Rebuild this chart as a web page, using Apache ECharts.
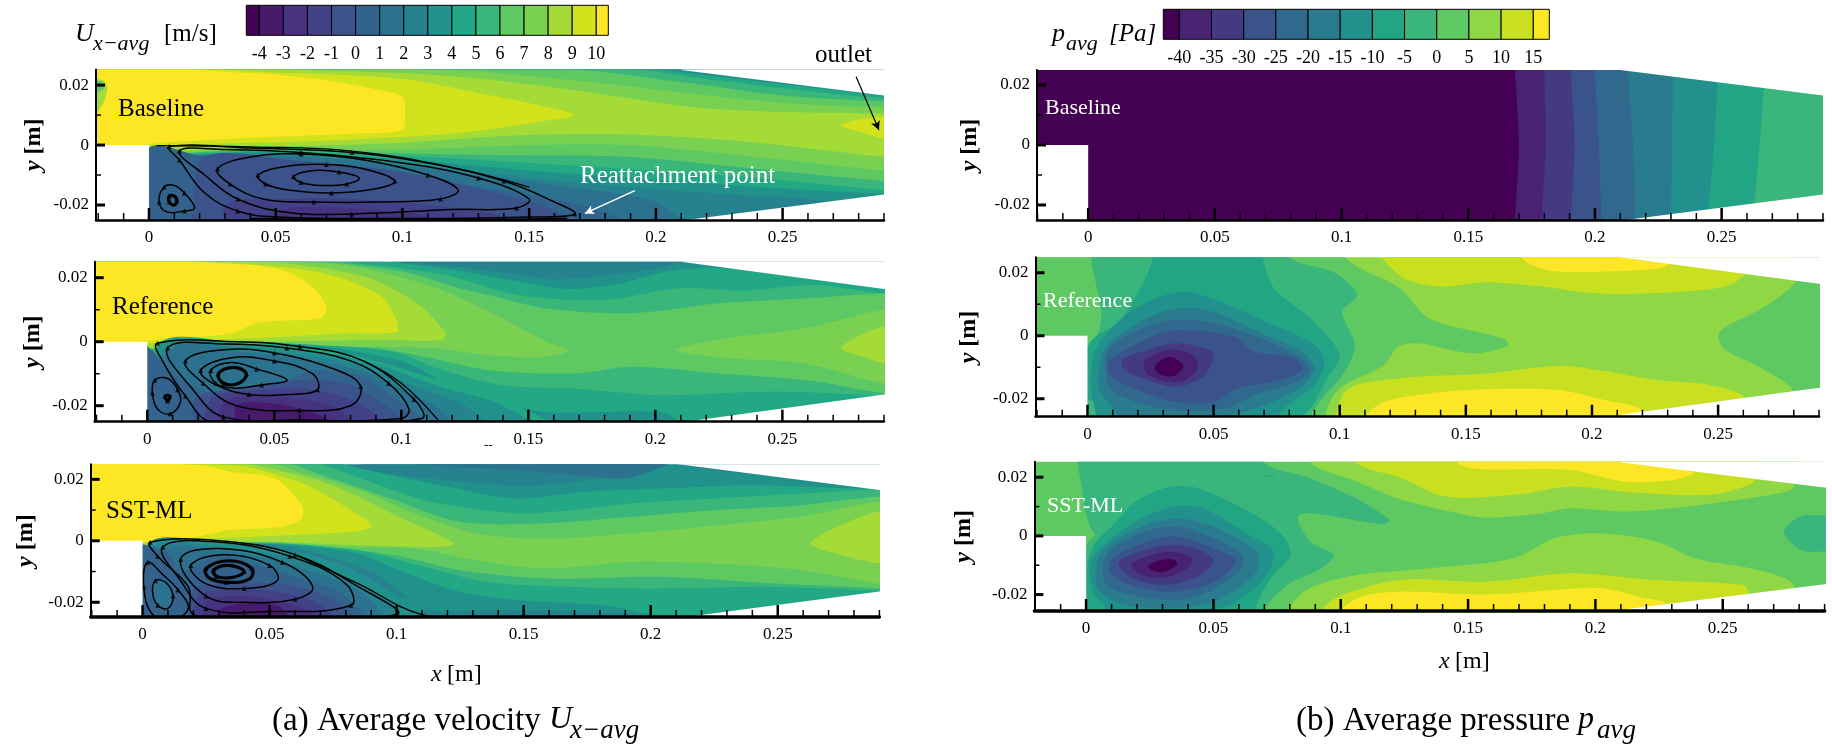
<!DOCTYPE html>
<html><head><meta charset="utf-8">
<style>html,body{margin:0;padding:0;background:#fff}#c{width:1832px;height:754px}</style>
<script src="https://cdn.jsdelivr.net/npm/echarts@6/dist/echarts.min.js"></script>
</head><body><div id="c"></div>
<script>
// colour levels
const uColors=['#440154','#481a6c','#46327e','#424086','#3b528b','#33638d','#2c728e','#26828e','#21918c','#22a884','#3bb67a','#5ec962','#7ad151','#a5db36','#d2e21b','#fde725'];
const pColors=['#440154','#482374','#443983','#3a538b','#31688e','#2a7b8e','#22908c','#21a585','#3ab57b','#5ec962','#8fd744','#c8e020','#fde725'];
const uBounds=[-4.54,-4,-3,-2,-1,0,1,2,3,4,5,6,7,8,9,10,10.5];
const pBounds=[-42.49,-40,-35,-30,-25,-20,-15,-10,-5,0,5,10,15,17.49];
const uTickLabels=[-4,-3,-2,-1,0,1,2,3,4,5,6,7,8,9,10];
const pTickLabels=[-40,-35,-30,-25,-20,-15,-10,-5,0,5,10,15];
const xMajor=[0,0.05,0.1,0.15,0.2,0.25];
const xMinor=[-0.02,-0.01,0.01,0.02,0.03,0.04,0.06,0.07,0.08,0.09,0.11,0.12,0.13,0.14,0.16,0.17,0.18,0.19,0.21,0.22,0.23,0.24,0.26,0.27,0.28,0.29];
const yMajor=[-0.02,0,0.02];
const yMinor=[-0.01,0.01];
// duct outline: areas outside the duct (mm)
const stepMask=[[-60,0],[0,0],[0,-60],[-60,-60]];
const topMask=[[210,25],[290,16.5],[340,16.5],[340,60],[210,60]];
const botMask=[[212,-25],[290,-16.5],[340,-16.5],[340,-60],[212,-60]];
const full=[[-60,-60],[340,-60],[340,60],[-60,60]];

// contour regions, painted in order: [colour level, [[x mm, y mm],...]]
const uBaselineBands=[
[6,full],
[7,[[-40,26.5],[205,26.5],[225,24.5],[290,18],[330,14],[330,-32],[225,-32],[200,-19],[170,-14.5],[130,-10],[80,-5],[30,-3],[-40,-2]]],
[8,[[-40,26],[200,26],[225,24],[290,17.5],[330,14],[330,-25],[260,-18],[230,-16.5],[190,-14],[150,-11],[110,-7],[50,-3],[-40,-1.5]]],
[9,[[-40,25.6],[195,25.5],[222,23],[290,16.5],[330,14],[330,-18],[290,-16.3],[240,-14],[190,-11],[150,-8.5],[110,-5.5],[50,-2.5],[-40,-1]]],
[10,[[-40,25.5],[190,25.3],[220,22],[260,18],[290,15.5],[330,14],[330,-17],[290,-15],[240,-11],[190,-8],[150,-6],[110,-4],[50,-2],[-40,-0.8]]],
[11,[[-40,25.3],[165,25.2],[210,21],[250,16.5],[290,14.5],[330,13.5],[330,-14],[290,-12],[240,-8],[190,-4],[150,-3.5],[110,-3],[50,-1.6],[-40,-0.6]]],
[12,[[-40,25.2],[115,25.1],[168,21.5],[210,17.5],[250,14],[290,12.5],[330,12],[330,-11],[290,-8.5],[240,-4],[190,0],[150,0],[100,-1.5],[50,-1.2],[-40,-0.4]]],
[13,[[-40,25],[77,24.6],[122,22.8],[168,18.3],[213,12.8],[250,11],[290,10.5],[330,10],[330,-6],[290,-3.9],[236,1.1],[190,3.5],[150,3.4],[100,0.8],[50,-0.3],[-40,-0.2]]],
[14,[[-40,25],[54,24],[100,22],[134,16.7],[156.5,12.8],[168,10],[156,8],[122,4],[77,1.7],[32,0.6],[-40,0]]],
[15,[[-40,24.6],[40,24],[70,21.5],[90,18.5],[100,16],[101,10],[100,5],[80,3.8],[40,2.5],[10,1],[-40,0]]],
[13,[[-25,22],[-18,21.5],[-16.5,19],[-18,14],[-25,6]]],
[11,[[-25,21.5],[-18.5,21],[-18,18.5],[-25,17]]],
[14,[[273,6.7],[280,8.5],[290,9.4],[300,9.4],[300,2],[290,2.2],[280,4.5]]],
[5,[[0,-1],[20,-3.5],[50,-4.5],[90,-8],[130,-14],[160,-18],[185,-24],[195,-32],[-10,-32]]],
[4,[[22,-3.8],[60,-5.5],[100,-9],[130,-14.5],[160,-22],[172,-32],[18,-32],[17,-22]]],
[3,[[30,-20],[50,-18],[80,-18],[110,-20],[140,-24],[148,-32],[35,-32]]],
[2,[[52,-22],[75,-21],[95,-22],[110,-24],[118,-32],[48,-32]]]
];
const uReferenceBands=[
[8,full],
[9,[[-40,26.5],[60,26.5],[88,25.5],[120,22.5],[145,19],[165,16.5],[185,18],[205,22],[225,23],[262,20],[330,16],[330,-25],[290,-17.5],[214,-26],[202,-22],[157,-22],[139,-18.7],[119,-13.5],[100,-6],[60,-1],[-40,-0.5]]],
[10,[[-40,26],[55,26],[114,21.4],[146,14.6],[180,13],[209,16.7],[236,16],[263,17.7],[290,15],[330,13],[330,-19],[290,-17],[247,-15.6],[202,-16.7],[168,-14.6],[139,-13.5],[114,-8.3],[96,-3],[50,-0.5],[-40,-0.4]]],
[11,[[-40,25.6],[60,25.4],[100.5,21.9],[123,16.7],[134.5,14.6],[157,10.4],[191,8.9],[225,12],[259,13.5],[290,15.1],[330,14],[330,-18],[290,-16],[259,-12],[225,-9.9],[191,-7.8],[168,-9.9],[134.5,-8.9],[112,-5.2],[89,-2],[50,-0.3],[-40,-0.3]]],
[12,[[-40,25.4],[50,25],[82,23.4],[114,16.7],[134.5,9.4],[157,0],[166,-2.6],[157,-4.7],[134.5,-4.2],[112,-2],[78,-1.5],[44,0],[-40,-0.2]]],
[12,[[208,-2.6],[229.6,1.2],[259,4.2],[290,10],[330,13],[330,-17],[290,-13],[259,-6.8],[230,-5.2]]],
[13,[[273,-2],[282,2.6],[290,4.7],[330,6],[330,-10],[290,-6.8],[282,-4.7]]],
[13,[[-40,25.2],[45,24.8],[60,24],[87,20],[107,11.5],[117.5,2.6],[116,0.5],[96,0.5],[41,0],[-40,-0.1]]],
[14,[[-40,25.1],[32,24.5],[69,21.4],[91.5,14.6],[98,6.8],[98,3],[78,2.6],[51,1.5],[19,0.5],[-40,0]]],
[15,[[-40,25],[30,24.5],[53,22.4],[65.5,16.7],[70.6,10.4],[67.7,7.3],[44,6],[32.6,2.6],[10,1],[-40,0]]],
[7,[[85,26],[120,23.5],[145,21],[160,19.5],[178,20.5],[205,23.5],[212,26]]],
[9,[[5,-0.4],[40,-0.8],[70,-2.5],[90,-6],[115,-12],[140,-18],[170,-32],[0,-32]]],
[8,[[5,-1],[40,-1.5],[70,-3.5],[90,-7],[115,-14],[140,-20],[160,-32],[0,-32]]],
[7,[[8,-1.5],[40,-2.5],[70,-5],[90,-9],[105,-14],[125,-20],[140,-32],[0,-32]]],
[6,[[10,-2],[40,-3.5],[70,-6.5],[90,-10.5],[100,-15],[115,-21],[125,-32],[0,-32]]],
[5,[[-2,-1],[8,-8],[14,-12],[25,-16],[35,-14.5],[55,-12],[65,-9],[85,-11],[95,-16],[108,-24],[114,-32],[-2,-32]]],
[4,[[20,-17],[40,-14],[60,-12],[78,-13],[90,-18],[100,-24],[106,-32],[25,-32],[18,-22]]],
[3,[[25,-18],[45,-15],[65,-15],[80,-18],[90,-23],[96,-32],[25,-32]]],
[2,[[30,-19],[45,-17],[60,-18],[75,-21],[85,-32],[30,-32]]],
[1,[[35,-20],[45,-19],[55,-20],[70,-24],[76,-32],[38,-32]]]
];
const uSstBands=[
[7,full],
[8,[[-40,27],[62,27],[70,25],[102,21.4],[147,18],[181,20.3],[208,24.7],[225,23],[290,18],[330,16],[330,-30],[214,-30],[204,-25],[170,-23],[136,-22.6],[111,-22],[90,-10],[50,-1],[-40,-1]]],
[9,[[-40,26.5],[70,26],[88.6,23],[120,17.6],[147,13.8],[174.5,16],[204,17],[238,18],[283,17],[330,16],[330,-22],[290,-17.5],[214,-25],[181,-21],[147,-19.3],[125,-16.6],[102,-10],[84,-4],[50,-1],[-40,-1]]],
[10,[[-40,26],[65,26],[80,22],[113.5,12.7],[147,9],[170,10],[192.6,12.2],[226,13.8],[260,15.4],[290,16.5],[330,16],[330,-19],[290,-16.3],[249,-15],[204,-15.5],[170,-15],[136,-13.4],[109,-8],[84,-3],[50,-0.8],[-40,-0.8]]],
[11,[[-40,25.8],[55,25.5],[70.5,21.4],[97.6,13.8],[125,6.2],[156,5.6],[192.6,7.8],[226,10],[260,11.6],[290,14.3],[330,14],[330,-18],[290,-15.5],[249,-13.9],[204,-11.7],[159,-12.3],[125,-9.6],[102,-5.2],[80,-2.5],[50,-0.6],[-40,-0.6]]],
[12,[[-40,25.6],[50,25],[61.5,22.4],[84,17],[107,9],[131.5,2.4],[159,0.8],[192.6,2.4],[226,5],[260,8],[290,12.7],[330,13],[330,-17],[290,-14],[260,-9.6],[226,-7.4],[192.6,-6.8],[159,-9],[131.5,-6.3],[107,-2.5],[81,-2],[50,-0.4],[-40,-0.4]]],
[13,[[-40,25.4],[40,25],[50,23.5],[75,18],[102,7.3],[122.5,-0.9],[113,-2],[84,-1.4],[46,-0.3],[-40,-0.2]]],
[13,[[263,-0.9],[272,4],[290,9.5],[330,11],[330,-10],[290,-7.4],[272,-4]]],
[14,[[-40,25.2],[35,24.6],[43,23.8],[65,18],[87,7.3],[90,4.6],[83,3],[57,1.8],[18,0.5],[-40,0]]],
[15,[[-40,25.1],[23,24.6],[34,22.5],[52,20.3],[62.6,11.6],[62.6,7.3],[55,4.6],[34,3.5],[18.5,1],[-40,0]]],
[7,[[60,27],[84,25],[125,22],[159,20.3],[181,21],[206,24.7],[212,27]]],
[6,[[100,27],[107,25],[147,23],[170,21.5],[190,20.3],[204,24],[210,27]]],
[8,[[3,-0.6],[30,-0.8],[60,-3.5],[80,-8.5],[100,-17.5],[111,-22],[100,-32],[0,-32]]],
[7,[[5,-2],[30,-2],[55,-5],[78,-11],[95,-19],[105,-32],[0,-32]]],
[6,[[8,-3],[30,-3],[50,-6],[70,-11],[88,-18],[98,-32],[0,-32]]],
[5,[[15,-10],[30,-5],[50,-9],[65,-13],[80,-18],[92,-32],[0,-32],[-2,-2],[10,-4]]],
[4,[[20,-16],[35,-14],[55,-14],[72,-18],[85,-26],[88,-32],[22,-32]]],
[3,[[22,-18],[35,-16],[55,-17],[70,-21],[80,-32],[22,-32]]],
[2,[[25,-20],[40,-18],[55,-20],[68,-24],[72,-32],[26,-32]]],
[1,[[30,-23],[42,-20],[55,-22],[60,-32],[32,-32]]],
[6,[[5,-13],[9,-13],[12,-18],[10,-22],[6,-21],[4,-17]]]
];
const pBaselineBands=[
[0,full],
[1,[[168.5,40],[168.5,25],[170,0],[168.5,-25],[168.5,-40],[340,-40],[340,40]]],
[2,[[180,40],[180,25],[180.5,0],[179,-25],[179,-40],[340,-40],[340,40]]],
[3,[[190.5,40],[190.5,25],[192,0],[190.5,-25],[190.5,-40],[340,-40],[340,40]]],
[4,[[200,40],[200,25],[201.5,0],[202.5,-25],[202.5,-40],[340,-40],[340,40]]],
[5,[[213,40],[213,25],[215,0],[215.6,-25],[215.6,-40],[340,-40],[340,40]]],
[6,[[230.6,40],[230.6,25],[230.5,0],[230,-25],[230,-40],[340,-40],[340,40]]],
[7,[[248.4,40],[248.4,25],[247,0],[244.5,-25],[244.5,-40],[340,-40],[340,40]]],
[8,[[267,40],[267,25],[265,0],[262.5,-25],[262.5,-40],[340,-40],[340,40]]]
];
const pReferenceBands=[
[10,full],
[11,[[113,32],[124,19],[140,15.6],[158,17],[180,15.6],[202.6,13.4],[236,14],[254,16],[262,21],[262,32]]],
[12,[[172,32],[172,25],[182.4,20.8],[202.6,20.3],[227,21.4],[230.5,23],[214,25],[214,32]]],
[11,[[101,-34],[102,-17.8],[124,-13.5],[158,-12],[187,-9.5],[202.6,-10.9],[225,-14],[247,-15.7],[261,-20],[261,-34]]],
[12,[[110,-34],[110,-26],[117.6,-21],[135.5,-18.3],[158,-17],[187,-17.2],[202.6,-20],[220,-24],[212,-34]]],
[9,[[281,30],[281,17.7],[267.4,8.7],[250.7,1.3],[252,-4],[267.4,-10.4],[280,-17.8],[280,-30],[340,-30],[340,30]]],
[9,[[-40,36],[102,36],[102,25],[124,15],[135.5,5.5],[164.6,-0.8],[167,-3],[153,-5.6],[131,-2.4],[123,-3.5],[117.6,-9.3],[100,-16.7],[94,-25.7],[94,-36],[-40,-36]]],
[8,[[1.3,36],[1.3,25],[5.4,7.6],[4,0.2],[0.4,-3],[-1,-36],[88.5,-36],[88.5,-25.7],[93,-20],[102,-11.4],[106,-3],[101,7.6],[107,13],[98,20],[80,25],[80,36]]],
[7,[[26,36],[26,25],[21.5,16],[12.5,4.4],[2.5,-0.8],[-2,-8],[-2,-36],[85,-36],[85,-26],[88.5,-23],[95,-13.5],[100,-6],[88.5,5.5],[74,15],[69.5,25],[69.5,36]]],
[8,[[-5,-21],[3,-21],[5,-26],[3,-36],[-5,-36]]],
[6,[[19,8.7],[37,14],[52.6,10.8],[70.6,4.4],[88.5,-2],[94,-8],[90,-15.7],[79.6,-22],[75,-26],[73,-36],[5,-36],[3.6,-26],[1.3,-15.7],[2.5,-6],[7,0.2]]],
[5,[[8,-3],[20,4],[35,8.7],[50,7.6],[70.6,0.2],[85,-5],[90,-10.4],[84,-16.7],[70.6,-22],[57,-26],[50,-36],[14,-36],[12.5,-26],[4.7,-16.7],[5.4,-8]]],
[4,[[8,-5],[21.5,2.3],[35,5],[50.7,3.9],[70.6,-1.4],[85,-7.2],[88.5,-11.4],[79.6,-15.7],[66,-18.8],[55,-23],[35,-23.6],[19,-21],[9,-16.7]]],
[3,[[8.5,-8],[23.5,-1],[35,1.8],[58,-0.3],[66,-5],[82,-7],[85,-11],[73,-14.6],[59.5,-16.7],[50.5,-21],[35,-21],[19,-17],[9,-12.5]]],
[2,[[13.6,-7.7],[24,-4.5],[35,-2.4],[49.4,-5],[49.4,-8.2],[46,-13],[35,-16.2],[23.7,-14],[15,-11]]],
[1,[[22.6,-8.2],[31.5,-4.5],[41.6,-6],[43.8,-9.8],[39.4,-14],[31.5,-14.6],[23.5,-12]]],
[0,[[27,-9.3],[32.5,-6.7],[38,-9.3],[36,-12],[32.5,-13],[27.5,-11.6]]]
];
const pSstBands=[
[9,full],
[10,[[88,34],[88,25],[106.5,18.5],[124,12.3],[146,7.7],[157,6.2],[179,7.7],[190,9.4],[212,8.3],[245,11],[274.5,15],[278,17],[278,34]]],
[11,[[106,34],[106,25],[124,19.7],[141,13.4],[168,14],[190,16.8],[212,15],[245,14],[260.6,17.4],[263,20],[263,34]]],
[12,[[146,34],[146,25],[155,22.8],[190,22.5],[212,18.5],[230,19],[238.6,21.4],[227,23.6],[214,25],[214,34]]],
[10,[[79,-34],[79,-25.5],[88,-17.8],[106.5,-13.3],[135,-11],[168,-7.6],[184,-0.8],[201.6,0.9],[224,-1.9],[239,-7.6],[261,-11],[274.5,-14.4],[278.3,-17.8],[278,-34]]],
[11,[[92.5,-34],[92.5,-25.5],[101,-20],[123.5,-15],[156.9,-15.6],[190,-12.7],[223,-15],[258,-16.7],[260,-19.5],[258,-34]]],
[12,[[100,-34],[100,-25.5],[108,-20.7],[123.5,-19],[157,-20],[201,-17.8],[216.8,-20.7],[228,-23.5],[214,-34]]],
[8,[[274,1.5],[280.5,6.6],[290,7],[340,7],[340,-5.3],[290,-5.3],[280.5,-4.8]]],
[8,[[-1,36],[-1,11.7],[1.8,2.6],[3.5,0.3],[0.4,-3],[-1,-36],[70,-36],[70,-25.5],[79,-16.7],[92.5,-11],[97.3,-6.5],[88,-2],[83,6.6],[88,7.7],[117,4],[119,5.5],[106,12.8],[88,19.7],[70,25],[70,36]]],
[7,[[10.6,3.7],[19.5,11.7],[32.7,16.8],[44,16.2],[64,8.3],[77,0.3],[80.3,-6.5],[72.6,-14.4],[66,-25.5],[64,-36],[1,-36],[0.7,-25.5],[0.7,-8.7],[4,-2]]],
[6,[[8.4,-2],[21.7,6],[35,10],[46,9.4],[61.5,1.5],[73.6,-5.3],[70,-14.4],[57,-23.5],[50.4,-25.5],[48,-36],[10,-36],[8.4,-25.5],[2.9,-19],[1.8,-8.7]]],
[5,[[7.3,-4.2],[21.7,3.2],[35,6],[48,3.8],[61.5,-1.9],[68,-6.5],[66,-13.3],[50.4,-22.4],[35,-24.6],[15,-23.5],[4.4,-17.8],[4.4,-8.7]]],
[4,[[8.4,-6],[21.7,1],[35,3.2],[50.4,-0.8],[61.5,-6.5],[60.4,-11.6],[48,-19],[35,-21.8],[17,-20],[7.3,-15.6]]],
[3,[[10.6,-7.6],[23.8,-2],[35,-0.2],[50.4,-4.2],[58.7,-8.7],[50.4,-15.6],[35,-19],[19.5,-17.3],[9.5,-12.7]]],
[2,[[12.8,-8.7],[26,-4.2],[35,-3],[46,-5.3],[50,-8.7],[43.8,-13.9],[30.5,-16.7],[17,-13.9]]],
[1,[[17.7,-9.9],[28,-5.9],[38,-5.9],[42,-8.7],[35,-13.3],[24,-13.9]]],
[0,[[24.3,-10.5],[29.4,-8.2],[35,-8.2],[35.6,-10],[29.4,-12.4]]],
[6,[[70,20.7],[72,20.2],[74.5,19.8],[72,20.5]]]
];

// streamlines (mm): closed loops, then open lines
const uBaselineLoops=[
[[8,-17],[10,-17],[11,-18.5],[10,-20],[8,-19]],
[[57,-10.5],[65,-8.5],[75,-9],[83,-11],[78,-13],[68,-13.5],[60,-12.5]],
[[43,-10],[55,-7],[70,-6.5],[85,-8],[97,-12],[90,-14.5],[72,-16],[55,-15],[46,-13]],
[[27,-8],[40,-4],[60,-3],[85,-5],[110,-10],[122,-15],[115,-18],[90,-19],[65,-19],[45,-18],[32,-13]],
[[12,-2],[30,-1.5],[60,-2.5],[100,-6],[130,-11],[150,-18],[145,-21],[120,-21.5],[80,-23],[55,-22.5],[35,-18],[22,-10]],
[[8,-0.5],[40,-1],[80,-2.5],[110,-6],[140,-12],[160,-19],[168,-23],[150,-24],[100,-24.5],[50,-24],[35,-22],[22,-16],[12,-5]],
[[6,-14],[10,-13.5],[14,-16],[18,-21],[14,-22],[7,-22.3],[4,-19]]
];
const uBaselineOpen=[[[3,-0.2],[40,-0.6],[80,-2],[120,-7.5],[150,-14]],[[40,-24.5],[100,-25],[165,-24.5]]];
const uReferenceLoops=[
[[28,-10],[34,-8],[39,-10],[36,-13],[30,-13]],
[[7,-17],[9,-17],[8,-18.5]],
[[25,-9],[33,-6.5],[43,-8.5],[55,-12],[45,-13.5],[34,-14.5],[27,-13]],
[[21,-9],[33,-5],[50,-6],[65,-10],[67,-15],[55,-16.5],[40,-16.5],[27,-13.5]],
[[15,-6],[30,-2.5],[50,-3.5],[75,-9],[84,-14],[80,-20],[60,-21.5],[35,-20],[22,-13]],
[[8,-2],[30,-0.7],[55,-2],[80,-6],[95,-13],[103,-21],[100,-24],[60,-24.5],[30,-23.5],[18,-15]],
[[4,-0.5],[35,0],[60,-1.5],[85,-6],[105,-18],[108,-24],[60,-25.5],[25,-25],[15,-17],[6,-6]],
[[3,-12],[8,-11.5],[12,-15],[13,-19],[9,-22.5],[4,-21],[2,-16]]
];
const uReferenceOpen=[[[85,-6],[100,-13],[115,-25]]];
const uSstLoops=[
[[28,-9.5],[34,-8],[40,-10],[35,-12],[29,-11.5]],
[[25,-9],[34,-6.5],[43,-9],[42,-12.5],[33,-13.5],[26,-12]],
[[19,-8],[32,-4.5],[50,-8],[53,-13],[40,-15.5],[25,-14]],
[[15,-6],[30,-2.5],[55,-7],[67,-15],[60,-19],[40,-20],[25,-18]],
[[8,-2],[30,-0.5],[58,-5],[80,-14],[82,-21],[50,-23],[25,-22],[15,-13]],
[[3,-0.5],[30,0],[60,-4.5],[85,-15],[100,-24],[40,-25],[20,-24],[18,-15],[6,-5]],
[[2,-7],[8,-11],[14,-16],[18,-22],[12,-25.5],[4,-24],[0.5,-15]],
[[5,-13],[9,-13.5],[12,-18],[10,-22],[6,-21],[4,-17]]
];
const uSstOpen=[[[60,-4.5],[85,-14],[110,-24],[135,-25]]];

// panels: pixel frame of each plot
const panels=[
 {name:'Baseline',bands:uBaselineBands,colors:uColors,loops:uBaselineLoops,open:uBaselineOpen,left:96,right:884,top:69.5,bottom:220,xmin:-0.0209,ymin:-0.025,ymax:0.0252,nameX:34,ink:'#000',tx:118,ty:112,fs:25},
 {name:'Reference',bands:uReferenceBands,colors:uColors,loops:uReferenceLoops,open:uReferenceOpen,left:94.7,right:884,top:261.7,bottom:421.7,xmin:-0.0207,ymin:-0.025,ymax:0.025,nameX:33,ink:'#000',tx:112,ty:310,fs:25},
 {name:'SST-ML',bands:uSstBands,colors:uColors,loops:uSstLoops,open:uSstOpen,left:90.7,right:879.4,top:464.3,bottom:617,xmin:-0.0204,ymin:-0.0248,ymax:0.0249,nameX:26,ink:'#000',tx:106,ty:513.5,fs:25},
 {name:'Baseline',bands:pBaselineBands,colors:pColors,left:1037,right:1823,top:70,bottom:220,xmin:-0.0202,ymin:-0.025,ymax:0.025,nameX:970,ink:'#fff',tx:1045,ty:110.5,fs:22},
 {name:'Reference',bands:pReferenceBands,colors:pColors,left:1035.5,right:1819,top:257.3,bottom:416.7,xmin:-0.0206,ymin:-0.0257,ymax:0.0249,nameX:968.6,ink:'#fff',tx:1043,ty:303.5,fs:22},
 {name:'SST-ML',bands:pSstBands,colors:pColors,left:1034.4,right:1824.6,top:461.7,bottom:611,xmin:-0.0203,ymin:-0.0256,ymax:0.0253,nameX:964,ink:'#fff',tx:1047,ty:508.5,fs:22}
];
const serif='"Liberation Serif","Times New Roman",serif';
const grids=[],xAxes=[],yAxes=[],series=[],graphics=[],tickSeries=[];
const lblStyle={fontFamily:serif,fontSize:17,color:'#000'};

panels.forEach((p,i)=>{
 grids.push({left:p.left,top:p.top,width:p.right-p.left,height:p.bottom-p.top});
 const bw=i===2||i===5?3.5:2.5;
 xAxes.push({gridIndex:i,type:'value',position:'bottom',min:p.xmin,max:0.29,z:10,splitLine:{show:false},
  axisLine:{onZero:false,lineStyle:{color:'#000',width:bw}},axisTick:{show:false},
  axisLabel:{customValues:xMajor,margin:9,formatter:v=>String(v),...lblStyle}});
 yAxes.push({gridIndex:i,type:'value',position:'left',min:p.ymin,max:p.ymax,z:10,splitLine:{show:false},
  axisLine:{onZero:false,lineStyle:{color:'#000',width:2}},axisTick:{show:false},
  axisLabel:{customValues:yMajor,margin:7,formatter:v=>String(v),...lblStyle},
  name:'{i|y} [m]',nameLocation:'middle',nameRotate:90,nameGap:p.left-p.nameX-12,
  nameTextStyle:{fontFamily:serif,fontSize:24,fontWeight:'bold',color:'#000',rich:{i:{fontFamily:serif,fontSize:24,fontWeight:'bold',fontStyle:'italic'}}}});
 const xi=i,yi=i;
 const toPts=(api,arr)=>arr.map(q=>api.coord([q[0]/1000,q[1]/1000]));
 series.push({type:'custom',xAxisIndex:xi,yAxisIndex:yi,clip:true,silent:true,z:2,
  data:p.bands.map((b,k)=>[k]),encode:{x:-1,y:-1},
  renderItem:(ps,api)=>{const b=p.bands[ps.dataIndex];
   return {type:'polygon',shape:{points:toPts(api,b[1]),smooth:b[1]===full?0:0.3},style:{fill:p.colors[b[0]],stroke:null}};}});
 const masks=[stepMask,topMask,botMask];
 series.push({type:'custom',xAxisIndex:xi,yAxisIndex:yi,clip:true,silent:true,z:4,
  data:masks.map((b,k)=>[k]),encode:{x:-1,y:-1},
  renderItem:(ps,api)=>({type:'polygon',shape:{points:toPts(api,masks[ps.dataIndex])},style:{fill:'#fff',stroke:null}})});
 // inward ticks, as thin bars standing on the axes; added last so they paint above everything
 [[xMajor,'x',12,2.5],[xMinor,'x',7,1.5],[yMajor,'y',9,3],[yMinor,'y',5,1.5]].forEach(([vals,dir,len,w])=>{
  tickSeries.push({type:'scatter',xAxisIndex:xi,yAxisIndex:yi,clip:false,silent:true,z:30,symbol:'rect',
   symbolSize:dir==='x'?[w,len]:[len,w],symbolOffset:dir==='x'?[0,-len/2]:[len/2,0],
   itemStyle:{color:'#000',opacity:1},
   data:vals.map(v=>dir==='x'?[v,p.ymin]:[p.xmin,v])});
 });
 if(p.loops){
  const heavy=i===0?1:2;
  series.push({type:'custom',xAxisIndex:xi,yAxisIndex:yi,clip:true,silent:true,z:3,
   data:p.loops.map((b,k)=>[k]),encode:{x:-1,y:-1},
   renderItem:(ps,api)=>({type:'polygon',shape:{points:toPts(api,p.loops[ps.dataIndex]),smooth:0.4},style:{fill:'none',stroke:'#000',lineWidth:ps.dataIndex<heavy?3.2:1.5}})});
  series.push({type:'custom',xAxisIndex:xi,yAxisIndex:yi,clip:true,silent:true,z:3,
   data:p.open.map((b,k)=>[k]),encode:{x:-1,y:-1},
   renderItem:(ps,api)=>({type:'polyline',shape:{points:toPts(api,p.open[ps.dataIndex]),smooth:0.4},style:{fill:'none',stroke:'#000',lineWidth:1.3}})});
  series.push({type:'scatter',xAxisIndex:xi,yAxisIndex:yi,silent:true,z:3,symbol:'triangle',symbolSize:5,itemStyle:{color:'#000'},
   data:p.loops.flatMap(l=>l.filter((q,k)=>k%2===0).map(q=>[q[0]/1000,q[1]/1000]))});
 }
 graphics.push({type:'text',left:p.tx,top:p.ty-p.fs*0.6,z:20,style:{text:p.name,fill:p.ink,font:p.fs+'px '+serif}});
});

// annotation arrows
series.push({type:'line',xAxisIndex:0,yAxisIndex:0,data:[],silent:true,z:6,
 markLine:{silent:true,symbol:['none','arrow'],symbolSize:[7,9],label:{show:false},animation:false,
  data:[
   [{coord:[0.279,0.0228],lineStyle:{color:'#000',width:1.2,type:'solid'}},{coord:[0.288,0.005]}],
   [{coord:[0.1917,-0.0152],lineStyle:{color:'#fff',width:1.5,type:'solid'}},{coord:[0.172,-0.0228]}]
  ]}});

// colour bars
const legends=[
 {bounds:uBounds,colors:uColors,ticks:uTickLabels,left:246.3,right:608.3,top:5.3,bottom:35.3},
 {bounds:pBounds,colors:pColors,ticks:pTickLabels,left:1163.3,right:1549.3,top:9.3,bottom:39.3}
];
legends.forEach((l,j)=>{
 const gi=panels.length+j;
 grids.push({left:l.left,top:l.top,width:l.right-l.left,height:l.bottom-l.top});
 xAxes.push({gridIndex:gi,type:'value',position:'bottom',min:l.bounds[0],max:l.bounds[l.bounds.length-1],splitLine:{show:false},
  axisLine:{show:false},axisTick:{show:false},
  axisLabel:{customValues:l.ticks,margin:10,fontFamily:serif,fontSize:18,color:'#000',formatter:v=>String(v)}});
 yAxes.push({gridIndex:gi,type:'value',min:0,max:1,show:false});
 series.push({type:'custom',xAxisIndex:xAxes.length-1,yAxisIndex:yAxes.length-1,silent:true,clip:false,z:3,
  data:l.colors.map((c,k)=>[k]),encode:{x:-1,y:-1},
  renderItem:(ps,api)=>{const k=ps.dataIndex,a=api.coord([l.bounds[k],1]),b=api.coord([l.bounds[k+1],0]);
   return {type:'rect',shape:{x:a[0],y:a[1],width:b[0]-a[0],height:b[1]-a[1]},style:{fill:l.colors[k],stroke:'#000',lineWidth:1}};}});
});
series.push(...tickSeries);

// titles, captions
const T=(text,left,cy,size,extra={})=>graphics.push({type:'text',left,top:cy-size*0.58,z:20,style:{text,fill:extra.fill||'#000',font:(extra.italic?'italic ':'')+size+'px '+serif}});
T('U',75,36,26,{italic:1}); T('x\u2212avg',93,46,22,{italic:1}); T('[m/s]',164,36,25);
T('p',1052,36,26,{italic:1}); T('avg',1066,46,22,{italic:1}); T('[Pa]',1109,36,25,{italic:1});
T('outlet',815,57,25);
T('Reattachment point',580,178,25,{fill:'#fff'});
T('--',484,447,13);
T('x',431,677,24,{italic:1}); T('[m]',447,677,24);
T('x',1439,664,24,{italic:1}); T('[m]',1455,664,24);
T('(a) Average velocity',272,724,33);
T('U',549,722,32,{italic:1}); T('x\u2212avg',570,733,27,{italic:1});
T('(b) Average pressure',1296,724,33);
T('p',1578,722,32,{italic:1}); T('avg',1597,733,27,{italic:1});

const chart=echarts.init(document.getElementById('c'),null,{renderer:'canvas'});
chart.setOption({animation:false,backgroundColor:'#fff',grid:grids,xAxis:xAxes,yAxis:yAxes,series,graphic:graphics});
</script></body></html>
